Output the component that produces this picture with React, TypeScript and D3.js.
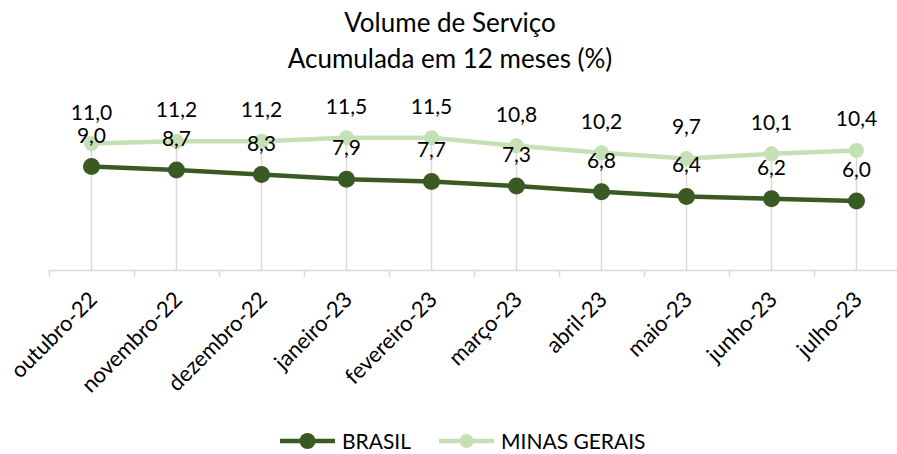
import { useEffect, useRef } from 'react';
import * as d3 from 'd3';

const MONTHS = [
  'outubro-22',
  'novembro-22',
  'dezembro-22',
  'janeiro-23',
  'fevereiro-23',
  'março-23',
  'abril-23',
  'maio-23',
  'junho-23',
  'julho-23',
];
const BRASIL = [9.0, 8.7, 8.3, 7.9, 7.7, 7.3, 6.8, 6.4, 6.2, 6.0];
const MINAS = [11.0, 11.2, 11.2, 11.5, 11.5, 10.8, 10.2, 9.7, 10.1, 10.4];

const WIDTH = 897;
const HEIGHT = 454;
const BASE_Y = 270;
const PLOT_LEFT = 49;
const PLOT_RIGHT = 899;

const DARK = '#3a5a23';
const LIGHT = '#c5e0b4';
const GRID = '#d9d9d9';
const FONT = 'Lato, "Open Sans", sans-serif';

const fmt = (v: number) => v.toFixed(1).replace('.', ',');

export default function App() {
  const svgRef = useRef<SVGSVGElement>(null);

  useEffect(() => {
    const svg = d3.select(svgRef.current);
    svg.selectAll('*').remove();
    svg.style('font-family', FONT);

    const x = d3.scaleBand<string>().domain(MONTHS).range([PLOT_LEFT, PLOT_RIGHT]);
    const cx = (m: string) => (x(m) ?? 0) + x.bandwidth() / 2;
    const y = d3.scaleLinear().domain([0, 12]).range([BASE_Y, BASE_Y - 138]);

    // Title -------------------------------------------------------------
    const title = svg
      .append('text')
      .attr('x', 450)
      .attr('text-anchor', 'middle')
      .style('font-size', '26px')
      .style('fill', '#000');
    title.append('tspan').attr('x', 450).attr('y', 32).text('Volume de Serviço');
    title.append('tspan').attr('x', 450).attr('y', 68).text('Acumulada em 12 meses (%)');

    // Drop lines ----------------------------------------------------------
    svg
      .append('g')
      .selectAll('line')
      .data(MONTHS)
      .join('line')
      .attr('x1', (m) => cx(m))
      .attr('x2', (m) => cx(m))
      .attr('y1', (_, i) => y(Math.max(MINAS[i], BRASIL[i])))
      .attr('y2', BASE_Y)
      .attr('stroke', GRID)
      .attr('stroke-width', 1.5);

    // X axis --------------------------------------------------------------
    const xAxis = d3
      .axisBottom(d3.scaleLinear().domain([0, MONTHS.length]).range([PLOT_LEFT, PLOT_RIGHT]))
      .tickValues(d3.range(MONTHS.length + 1))
      .tickSize(7)
      .tickSizeOuter(0)
      .tickFormat(() => '');
    const ax = svg.append('g').attr('transform', `translate(0,${BASE_Y})`).call(xAxis);
    ax.select('.domain').attr('stroke', GRID).attr('stroke-width', 1.5);
    ax.selectAll('.tick line').attr('stroke', GRID).attr('stroke-width', 1.5);

    svg
      .append('g')
      .selectAll('text')
      .data(MONTHS)
      .join('text')
      .attr('transform', (m) => `translate(${cx(m) + 7},${BASE_Y + 31}) rotate(-45)`)
      .attr('text-anchor', 'end')
      .style('font-size', '22px')
      .style('fill', '#000')
      .text((m) => m);

    // Lines ---------------------------------------------------------------
    const series = [
      { values: MINAS, color: LIGHT, r: 7.5 },
      { values: BRASIL, color: DARK, r: 8.5 },
    ];
    const line = d3
      .line<number>()
      .x((_, i) => cx(MONTHS[i]))
      .y((v) => y(v));

    for (const s of series) {
      svg
        .append('path')
        .datum(s.values)
        .attr('d', line)
        .attr('fill', 'none')
        .attr('stroke', s.color)
        .attr('stroke-width', 4.5);
      svg
        .append('g')
        .selectAll('circle')
        .data(s.values)
        .join('circle')
        .attr('cx', (_, i) => cx(MONTHS[i]))
        .attr('cy', (v) => y(v))
        .attr('r', s.r)
        .attr('fill', s.color);
    }

    // Data labels ---------------------------------------------------------
    for (const s of series) {
      svg
        .append('g')
        .selectAll('text')
        .data(s.values)
        .join('text')
        .attr('x', (_, i) => cx(MONTHS[i]))
        .attr('y', (v) => y(v) - 24)
        .attr('text-anchor', 'middle')
        .style('font-size', '21px')
        .style('fill', '#000')
        .text((v) => fmt(v));
    }

    // Legend --------------------------------------------------------------
    const legend = svg.append('g').attr('transform', 'translate(0,441)');
    const items = [
      { label: 'BRASIL', color: DARK, x: 280, r: 8 },
      { label: 'MINAS GERAIS', color: LIGHT, x: 439, r: 7 },
    ];
    for (const it of items) {
      legend
        .append('line')
        .attr('x1', it.x)
        .attr('x2', it.x + 55)
        .attr('stroke', it.color)
        .attr('stroke-width', 4.5);
      legend
        .append('circle')
        .attr('cx', it.x + 27.5)
        .attr('r', it.r)
        .attr('fill', it.color);
      legend
        .append('text')
        .attr('x', it.x + 62)
        .attr('y', 7.5)
        .style('font-size', '21px')
        .style('fill', '#000')
        .text(it.label);
    }
  }, []);

  return (
    <svg
      ref={svgRef}
      width={WIDTH}
      height={HEIGHT}
      style={{ position: 'absolute', left: 0, top: 0, background: '#fff' }}
    />
  );
}
